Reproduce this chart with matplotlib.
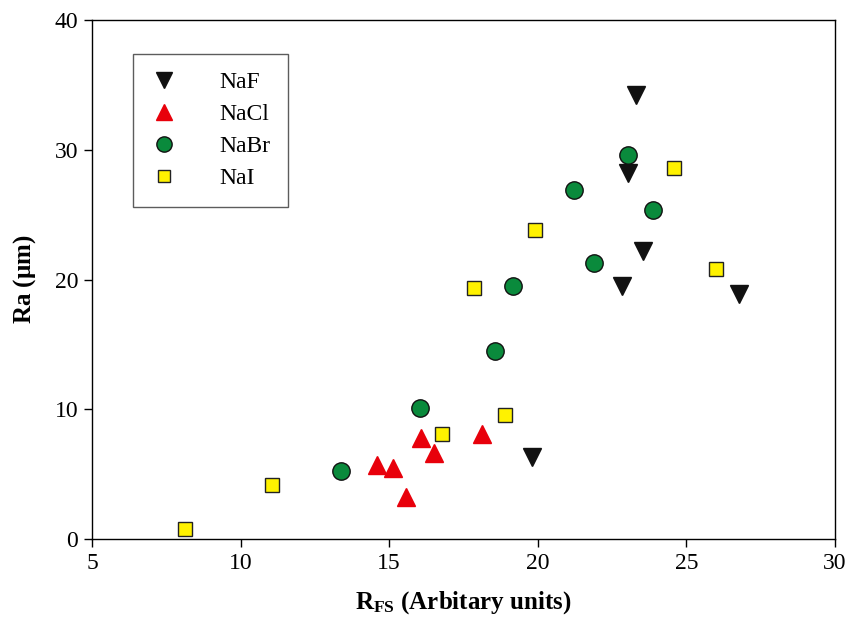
import numpy as np
import matplotlib.pyplot as plt

plt.rcParams['font.family'] = 'Liberation Serif'
plt.rcParams['mathtext.fontset'] = 'custom'
plt.rcParams['mathtext.rm'] = 'Liberation Serif'
plt.rcParams['mathtext.bf'] = 'Liberation Serif:bold'

# data
naf_x = [23.3, 23.04, 23.54, 22.84, 26.78, 19.79]
naf_y = [34.2, 28.24, 22.2, 19.48, 18.87, 6.32]

nacl_x = [14.6, 15.14, 15.56, 16.07, 16.51, 18.11]
nacl_y = [5.71, 5.5, 3.27, 7.76, 6.63, 8.06]

nabr_x = [13.38, 16.02, 18.55, 19.18, 21.21, 21.9, 23.03, 23.86]
nabr_y = [5.25, 10.08, 14.5, 19.51, 26.93, 21.31, 29.62, 25.37]

nai_x = [8.13, 11.05, 16.78, 17.84, 18.88, 19.89, 24.57, 26.0]
nai_y = [0.76, 4.18, 8.06, 19.36, 9.53, 23.82, 28.61, 20.82]

fig = plt.figure(figsize=(8.48, 6.19), dpi=100)
ax = fig.add_axes([0.1085, 0.1292, 0.8762, 0.8385])

ax.plot(naf_x, naf_y, 'v', ms=12.5, color='#111111', mec='#111111', label='NaF')
ax.plot(nacl_x, nacl_y, '^', ms=12.5, color='#e8000b', mec='#e8000b', label='NaCl')
ax.plot(nabr_x, nabr_y, 'o', ms=12.5, color='#0a8a3c', mec='#111111', mew=1, label='NaBr')
ax.plot(nai_x, nai_y, 's', ms=10.5, color='#fff200', mec='#222222', mew=1, label='NaI')

ax.set_xlim(5, 30)
ax.set_ylim(0, 40)
ax.set_xticks([5, 10, 15, 20, 25, 30])
ax.set_yticks([0, 10, 20, 30, 40])
ax.tick_params(direction='out', length=6, width=1, labelsize=17, top=False, right=False, pad=4)
for s in ax.spines.values():
    s.set_linewidth(1.0)

ax.set_xlabel(r'$\mathbf{R_{FS}}$ (Arbitary units)', fontsize=18, fontweight='bold', labelpad=11)
ax.set_ylabel(r'Ra ($\mathbf{\mu}$m)', fontsize=18, fontweight='bold', labelpad=12)

leg = ax.legend(loc='upper left', bbox_to_anchor=(0.055, 0.935), fontsize=17, frameon=True,
                fancybox=False, edgecolor='#333333', handletextpad=1.76, borderpad=0.75,
                labelspacing=0.45, handlelength=1.14, borderaxespad=0, markerscale=0.88)
leg.get_frame().set_linewidth(1.0)

fig.savefig('out.png', dpi=100)
